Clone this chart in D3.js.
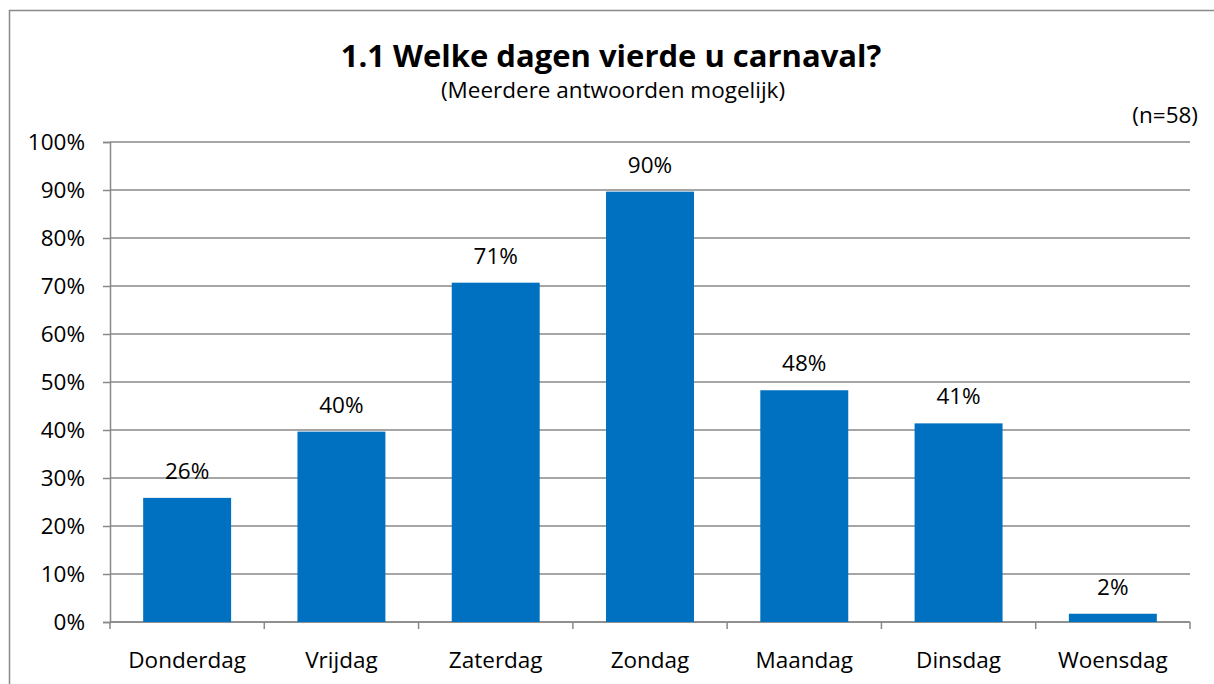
<!DOCTYPE html>
<html>
<head>
<meta charset="utf-8">
<script src="https://cdn.jsdelivr.net/npm/d3@7"></script>
<style>
  body { margin: 0; background: #fff; }
  svg text { font-family: "Open Sans", sans-serif; fill: #000; }
</style>
</head>
<body>
<svg id="chart" width="1214" height="684"></svg>
<script>
// data
const days = ["Donderdag", "Vrijdag", "Zaterdag", "Zondag", "Maandag", "Dinsdag", "Woensdag"];
const shares = [0.2586, 0.3966, 0.7069, 0.8966, 0.4828, 0.4138, 0.0172];
const labels = ["26%", "40%", "71%", "90%", "48%", "41%", "2%"];
const yTicks = [0, 0.1, 0.2, 0.3, 0.4, 0.5, 0.6, 0.7, 0.8, 0.9, 1];

const svg = d3.select("#chart");
const grey = "#898989";

// frame (rechts en onder valt buiten beeld)
svg.append("rect")
  .attr("x", 9.5).attr("y", 10.5)
  .attr("width", 1240).attr("height", 700)
  .attr("fill", "none").attr("stroke", grey).attr("stroke-width", 1.5);

const m = { left: 110, right: 1190, top: 142, bottom: 622 };

const x = d3.scaleBand().domain(days).range([m.left, m.right]).paddingInner(0.43).paddingOuter(0.215);
const xEdge = d3.scaleLinear().domain([0, days.length]).range([m.left, m.right]);
const y = d3.scaleLinear().domain([0, 1]).range([m.bottom, m.top]);

// gridlines
svg.append("g")
  .selectAll("line")
  .data(yTicks)
  .join("line")
  .attr("x1", m.left).attr("x2", m.right)
  .attr("y1", d => y(d)).attr("y2", d => y(d))
  .attr("stroke", grey).attr("stroke-width", 1.5);

// y as
const yAxis = svg.append("g")
  .attr("transform", `translate(${m.left},0)`)
  .call(d3.axisLeft(y).tickValues(yTicks).tickFormat(d3.format(".0%")).tickSize(7).tickPadding(18));
yAxis.select(".domain").attr("stroke", grey).attr("stroke-width", 1.5);
yAxis.selectAll(".tick line").attr("stroke", grey).attr("stroke-width", 1.5);
yAxis.selectAll("text").style("font-size", "22.5px").attr("fill", "#000");

// x as
svg.append("line")
  .attr("x1", m.left).attr("x2", m.right)
  .attr("y1", m.bottom).attr("y2", m.bottom)
  .attr("stroke", grey).attr("stroke-width", 1.5);
svg.append("g")
  .selectAll("line")
  .data(d3.range(days.length + 1))
  .join("line")
  .attr("x1", d => xEdge(d)).attr("x2", d => xEdge(d))
  .attr("y1", m.bottom).attr("y2", m.bottom + 7)
  .attr("stroke", grey).attr("stroke-width", 1.5);

svg.append("g")
  .selectAll("text")
  .data(days)
  .join("text")
  .attr("x", d => x(d) + x.bandwidth() / 2)
  .attr("y", 668)
  .attr("text-anchor", "middle")
  .style("font-size", "22.5px")
  .text(d => d);

// staven
svg.append("g")
  .selectAll("rect")
  .data(days)
  .join("rect")
  .attr("x", d => x(d))
  .attr("width", x.bandwidth())
  .attr("y", (d, i) => y(shares[i]))
  .attr("height", (d, i) => m.bottom - y(shares[i]))
  .attr("fill", "#0070C0");

// waardelabels
svg.append("g")
  .selectAll("text")
  .data(days)
  .join("text")
  .attr("x", d => x(d) + x.bandwidth() / 2)
  .attr("y", (d, i) => y(shares[i]) - 19)
  .attr("text-anchor", "middle")
  .style("font-size", "22.5px")
  .text((d, i) => labels[i]);

// titels
svg.append("text")
  .attr("x", 611).attr("y", 67)
  .attr("text-anchor", "middle")
  .style("font-size", "31px").style("font-weight", "bold")
  .text("1.1 Welke dagen vierde u carnaval?");
svg.append("text")
  .attr("x", 613).attr("y", 98)
  .attr("text-anchor", "middle")
  .style("font-size", "22.5px")
  .text("(Meerdere antwoorden mogelijk)");
svg.append("text")
  .attr("x", 1198).attr("y", 123)
  .attr("text-anchor", "end")
  .style("font-size", "22.5px")
  .text("(n=58)");
</script>
</body>
</html>
